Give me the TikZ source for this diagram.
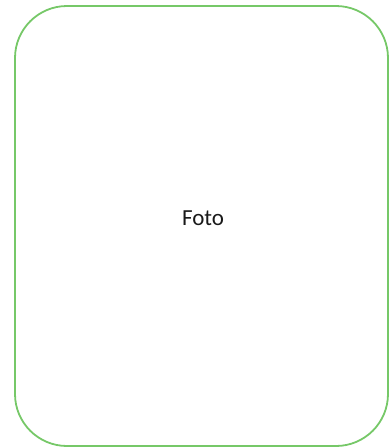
\documentclass[tikz,border=0pt]{standalone}
\usepackage{fontspec}
\setmainfont{Carlito}
\definecolor{framegreen}{RGB}{118,200,104}
\begin{document}
\begin{tikzpicture}[x=1pt,y=-1pt,
  frame/.style={draw=framegreen,line width=1.8pt,rounded corners=52pt},
  label/.style={font=\fontsize{23}{27}\selectfont,text=black!90}]
\useasboundingbox (0,0) rectangle (390,448);
\draw[frame] (15,6) rectangle (388,446);
\node[label] (foto) at (203,218) {Foto};
\end{tikzpicture}
\end{document}
